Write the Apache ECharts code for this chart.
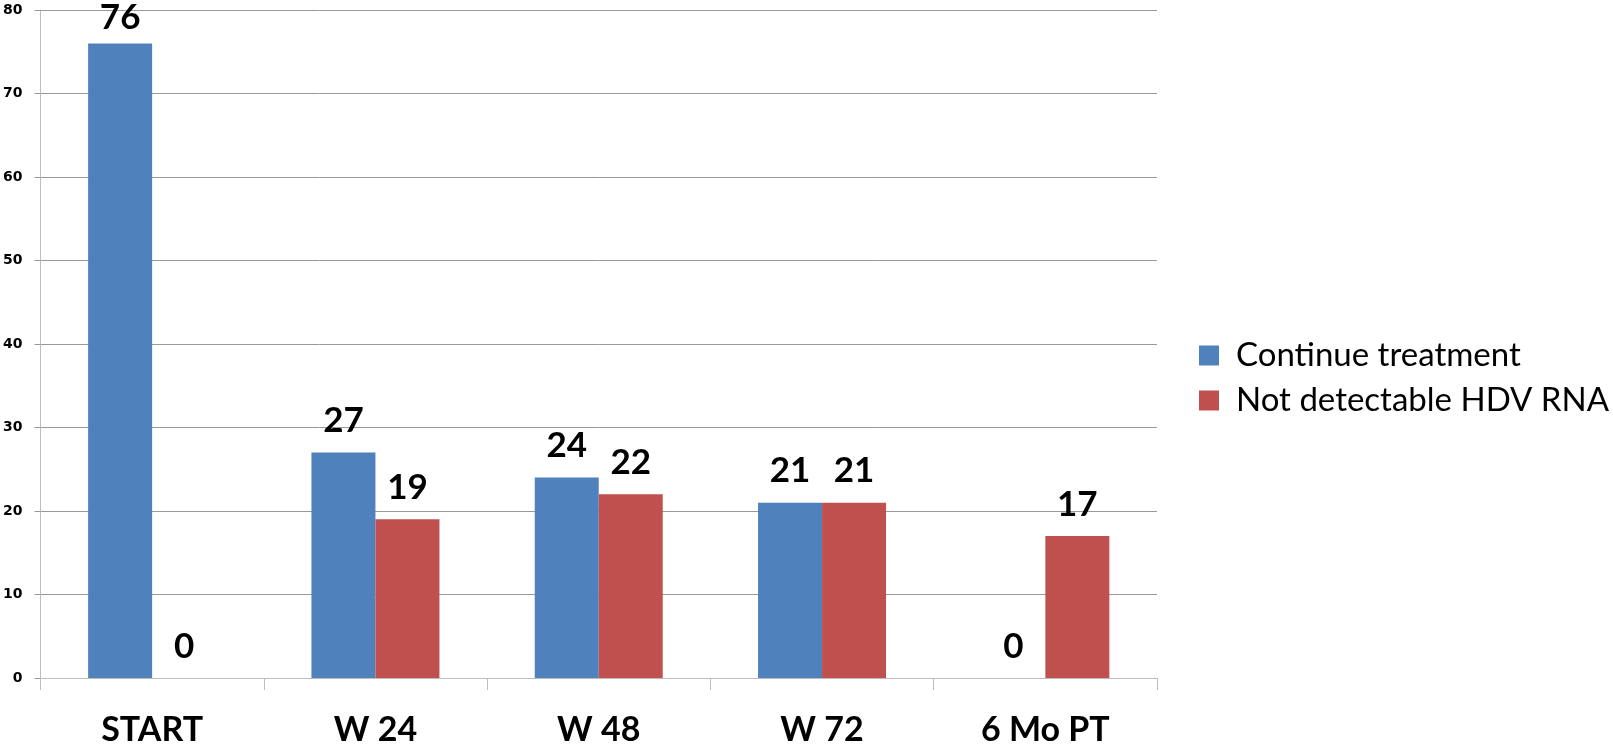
<!DOCTYPE html>
<html>
<head>
<meta charset="utf-8">
<script src="https://cdn.jsdelivr.net/npm/echarts@6/dist/echarts.min.js"></script>
<style>
  html, body { margin: 0; padding: 0; background: #ffffff; }
  #chart { width: 1613px; height: 747px; }
</style>
</head>
<body>
<div id="chart"></div>
<script>
// Time points and counts per group
const categories = ['START', 'W 24', 'W 48', 'W 72', '6 Mo PT'];
const continueTreatment = [76, 27, 24, 21, 0];
const notDetectable = [0, 19, 22, 21, 17];
const yTicks = { min: 0, max: 80, interval: 10 };

const FONT = 'Lato, "Liberation Sans", sans-serif';

const valueLabel = {
  show: true,
  position: 'top',
  distance: 14,
  color: '#000',
  fontFamily: FONT,
  fontWeight: 'bold',
  fontSize: 35
};

// Labels near the top of the value range sit a little closer to their bar
// so they stay inside the canvas.
function withLabels(values) {
  return values.map(v => v >= yTicks.max - 6
    ? { value: v, label: { distance: 8 } }
    : v);
}

const chart = echarts.init(document.getElementById('chart'));
chart.setOption({
  animation: false,
  backgroundColor: '#ffffff',
  grid: { left: 39, right: 456, top: 10, bottom: 69, containLabel: false },
  legend: {
    orient: 'vertical',
    left: 1194,
    top: 334,
    icon: 'rect',
    itemWidth: 20,
    itemHeight: 20,
    itemGap: 12,
    textStyle: { fontFamily: FONT, fontSize: 33, color: '#000', padding: [0, 0, 0, 12] },
    data: ['Continue treatment', 'Not detectable HDV RNA']
  },
  xAxis: {
    type: 'category',
    data: categories,
    axisLine: { show: true, lineStyle: { color: '#bdbdbd', width: 1 } },
    axisTick: { show: true, length: 12, alignWithLabel: false, lineStyle: { color: '#bdbdbd' } },
    axisLabel: {
      color: '#000',
      fontFamily: FONT,
      fontWeight: 'bold',
      fontSize: 34,
      margin: 35
    }
  },
  yAxis: {
    type: 'value',
    min: yTicks.min,
    max: yTicks.max,
    interval: yTicks.interval,
    axisLine: { show: true, lineStyle: { color: '#bdbdbd', width: 1 } },
    axisTick: { show: true, length: 6, lineStyle: { color: '#999' } },
    splitLine: { show: true, lineStyle: { color: '#999', width: 1 } },
    axisLabel: {
      color: '#000',
      fontFamily: '"DejaVu Sans", sans-serif',
      fontWeight: 'bold',
      fontSize: 14,
      margin: 18,
      align: 'right'
    }
  },
  series: [
    {
      name: 'Continue treatment',
      type: 'bar',
      data: withLabels(continueTreatment),
      barWidth: 64,
      barGap: '0%',
      itemStyle: { color: '#4f81bd' },
      label: valueLabel
    },
    {
      name: 'Not detectable HDV RNA',
      type: 'bar',
      data: withLabels(notDetectable),
      barWidth: 64,
      barGap: '0%',
      itemStyle: { color: '#c0504d' },
      label: valueLabel
    }
  ]
});
</script>
</body>
</html>
